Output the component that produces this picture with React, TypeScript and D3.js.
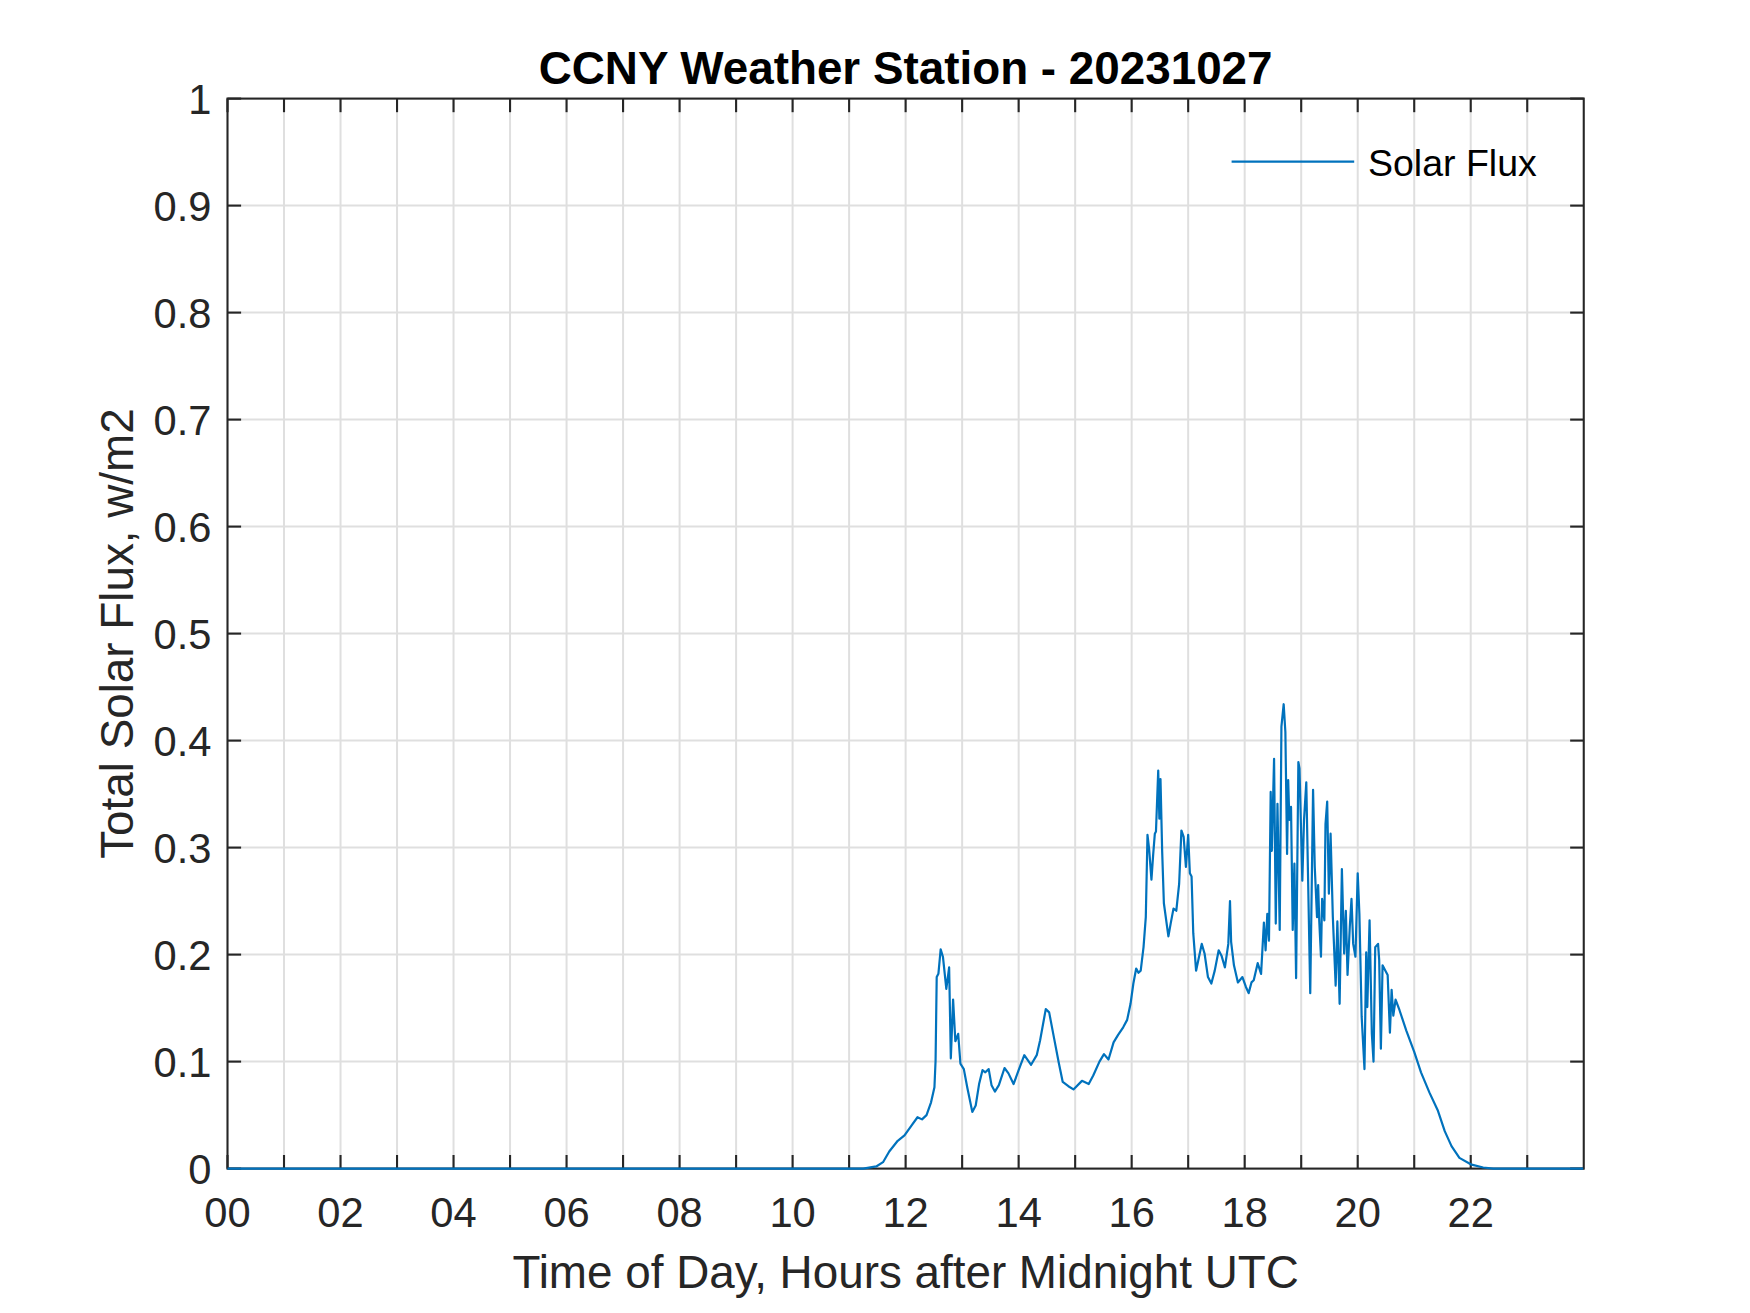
import * as d3 from "d3";

// hours after midnight UTC
const hours = [
  0, 11.25, 11.48, 11.6, 11.71, 11.86, 11.98, 12.1, 12.21, 12.29, 12.37, 12.45, 12.51, 12.53, 12.55,
  12.58, 12.62, 12.66, 12.71, 12.72, 12.77, 12.8, 12.84, 12.88, 12.93, 12.97, 13.03, 13.09, 13.18,
  13.24, 13.3, 13.36, 13.41, 13.47, 13.52, 13.58, 13.65, 13.75, 13.82, 13.91, 14.0, 14.1, 14.22,
  14.32, 14.38, 14.48, 14.54, 14.63, 14.71, 14.78, 14.88, 14.97, 15.12, 15.24, 15.32, 15.43, 15.51,
  15.59, 15.68, 15.76, 15.85, 15.92, 15.98, 16.03, 16.08, 16.12, 16.16, 16.21, 16.25, 16.28, 16.31,
  16.35, 16.38, 16.41, 16.43, 16.47, 16.49, 16.51, 16.54, 16.57, 16.65, 16.69, 16.74, 16.79, 16.84,
  16.88, 16.92, 16.96, 17.0, 17.03, 17.06, 17.09, 17.14, 17.18, 17.24, 17.29, 17.35, 17.41, 17.47,
  17.54, 17.59, 17.65, 17.71, 17.74, 17.76, 17.81, 17.88, 17.96, 18.02, 18.07, 18.12, 18.16, 18.23,
  18.29, 18.34, 18.37, 18.4, 18.43, 18.46, 18.48, 18.52, 18.55, 18.58, 18.62, 18.65, 18.69, 18.72,
  18.75, 18.77, 18.79, 18.82, 18.85, 18.88, 18.91, 18.95, 18.97, 19.02, 19.05, 19.09, 19.12, 19.16,
  19.21, 19.24, 19.28, 19.3, 19.32, 19.35, 19.37, 19.41, 19.43, 19.46, 19.49, 19.52, 19.56, 19.61,
  19.64, 19.68, 19.72, 19.76, 19.79, 19.82, 19.86, 19.89, 19.92, 19.96, 20.0, 20.03, 20.07, 20.12,
  20.15, 20.17, 20.21, 20.25, 20.28, 20.31, 20.36, 20.38, 20.41, 20.44, 20.49, 20.53, 20.57, 20.6,
  20.63, 20.67, 20.74, 20.86, 21.0, 21.12, 21.27, 21.42, 21.54, 21.66, 21.8, 22.0, 22.22, 22.4, 23.99,
];

// total solar flux
const flux = [
  0, 0, 0.002, 0.006, 0.016, 0.026, 0.031, 0.04, 0.048, 0.046, 0.05, 0.062, 0.076, 0.101, 0.179,
  0.182, 0.205, 0.198, 0.173, 0.168, 0.188, 0.103, 0.158, 0.119, 0.126, 0.098, 0.093, 0.076, 0.053,
  0.059, 0.079, 0.092, 0.09, 0.093, 0.078, 0.072, 0.078, 0.094, 0.089, 0.079, 0.092, 0.106, 0.097,
  0.106, 0.12, 0.149, 0.146, 0.121, 0.099, 0.081, 0.077, 0.074, 0.082, 0.079, 0.087, 0.1, 0.107,
  0.102, 0.118, 0.125, 0.132, 0.139, 0.154, 0.173, 0.187, 0.183, 0.185, 0.207, 0.235, 0.312, 0.298,
  0.27, 0.293, 0.313, 0.315, 0.372, 0.327, 0.364, 0.296, 0.248, 0.217, 0.229, 0.243, 0.241, 0.266,
  0.316, 0.31, 0.282, 0.312, 0.276, 0.273, 0.22, 0.185, 0.195, 0.21, 0.201, 0.179, 0.173, 0.185,
  0.204, 0.199, 0.188, 0.21, 0.25, 0.212, 0.19, 0.174, 0.179, 0.17, 0.164, 0.174, 0.176, 0.192,
  0.182, 0.23, 0.204, 0.238, 0.213, 0.352, 0.297, 0.383, 0.229, 0.341, 0.223, 0.413, 0.434, 0.408,
  0.294, 0.363, 0.326, 0.338, 0.223, 0.285, 0.178, 0.38, 0.374, 0.269, 0.326, 0.361, 0.276, 0.164,
  0.354, 0.282, 0.235, 0.265, 0.231, 0.198, 0.252, 0.232, 0.322, 0.343, 0.257, 0.313, 0.235, 0.171,
  0.231, 0.154, 0.28, 0.201, 0.241, 0.181, 0.226, 0.252, 0.21, 0.198, 0.276, 0.238, 0.142, 0.093,
  0.202, 0.151, 0.232, 0.126, 0.1, 0.207, 0.21, 0.195, 0.112, 0.19, 0.185, 0.181, 0.127, 0.167,
  0.143, 0.158, 0.148, 0.129, 0.109, 0.09, 0.071, 0.054, 0.035, 0.021, 0.01, 0.004, 0.001, 0, 0,
];

const xTicks = d3.range(0, 24);
const yTicks = [0, 0.1, 0.2, 0.3, 0.4, 0.5, 0.6, 0.7, 0.8, 0.9, 1];

const width = 1750;
const height = 1313;
const margin = { left: 227.5, top: 98.6, right: 166.25, bottom: 144.4 };
const innerW = width - margin.left - margin.right;
const innerH = height - margin.top - margin.bottom;

const axisColor = "#262626";
const gridColor = "#dfdfdf";
const lineColor = "#0072bd";
const font = "'Liberation Sans', Arial, Helvetica, sans-serif";
const tickLen = 13.6;

export default function App() {
  const x = d3.scaleLinear().domain([0, 24]).range([0, innerW]);
  const y = d3.scaleLinear().domain([0, 1]).range([innerH, 0]);

  const points: [number, number][] = hours.map((h, i) => [h, flux[i]]);
  const line = d3
    .line<[number, number]>()
    .x((d) => x(d[0]))
    .y((d) => y(d[1]));

  const yFmt = (v: number) => (v === 0 ? "0" : v === 1 ? "1" : d3.format(".1f")(v));

  return (
    <svg
      width={width}
      height={height}
      style={{ position: "absolute", left: 0, top: 0, background: "#fff" }}
      fontFamily={font}
    >
      <rect width={width} height={height} fill="#fff" />
      <g transform={`translate(${margin.left},${margin.top})`}>
        {/* grid */}
        {xTicks.slice(1).map((t) => (
          <line key={"gx" + t} x1={x(t)} x2={x(t)} y1={0} y2={innerH} stroke={gridColor} strokeWidth={2} />
        ))}
        {yTicks.slice(1, -1).map((t) => (
          <line key={"gy" + t} x1={0} x2={innerW} y1={y(t)} y2={y(t)} stroke={gridColor} strokeWidth={2} />
        ))}

        {/* box */}
        <rect x={0} y={0} width={innerW} height={innerH} fill="none" stroke={axisColor} strokeWidth={2.1} />

        {/* ticks, inside on all four sides */}
        {xTicks.map((t) => (
          <g key={"tx" + t}>
            <line x1={x(t)} x2={x(t)} y1={innerH} y2={innerH - tickLen} stroke={axisColor} strokeWidth={2.1} />
            <line x1={x(t)} x2={x(t)} y1={0} y2={tickLen} stroke={axisColor} strokeWidth={2.1} />
          </g>
        ))}
        {yTicks.map((t) => (
          <g key={"ty" + t}>
            <line x1={0} x2={tickLen} y1={y(t)} y2={y(t)} stroke={axisColor} strokeWidth={2.1} />
            <line x1={innerW} x2={innerW - tickLen} y1={y(t)} y2={y(t)} stroke={axisColor} strokeWidth={2.1} />
          </g>
        ))}

        {/* tick labels */}
        {xTicks
          .filter((t) => t % 2 === 0)
          .map((t) => (
            <text key={"lx" + t} x={x(t)} y={innerH + 58.7} textAnchor="middle" fontSize={41.67} fill={axisColor}>
              {d3.format("02d")(t)}
            </text>
          ))}
        {yTicks.map((t) => (
          <text key={"ly" + t} x={-16} y={y(t) + 15.5} textAnchor="end" fontSize={41.67} fill={axisColor}>
            {yFmt(t)}
          </text>
        ))}

        {/* data */}
        <path d={line(points) ?? ""} fill="none" stroke={lineColor} strokeWidth={2.2} strokeLinejoin="round" />

        {/* legend */}
        <line x1={1231.6 - margin.left} x2={1354.2 - margin.left} y1={161.6 - margin.top} y2={161.6 - margin.top} stroke={lineColor} strokeWidth={2.2} />
        <text x={1368 - margin.left} y={176.5 - margin.top} fontSize={37.5} fill="#000">
          Solar Flux
        </text>
      </g>

      {/* title and axis labels */}
      <text x={margin.left + innerW / 2} y={84.3} textAnchor="middle" fontSize={45.8} fontWeight="bold" fill="#000">
        CCNY Weather Station - 20231027
      </text>
      <text x={margin.left + innerW / 2} y={1288.3} textAnchor="middle" fontSize={45.8} fill={axisColor}>
        Time of Day, Hours after Midnight UTC
      </text>
      <text
        transform={`translate(132.5,${margin.top + innerH / 2}) rotate(-90)`}
        textAnchor="middle"
        fontSize={45.8}
        fill={axisColor}
      >
        Total Solar Flux, w/m2
      </text>
    </svg>
  );
}
